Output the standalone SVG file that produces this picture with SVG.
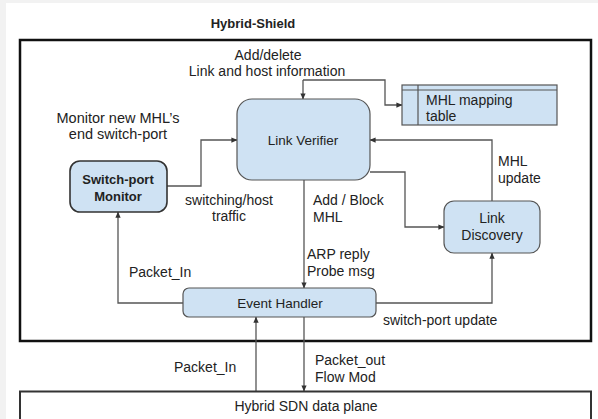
<svg xmlns="http://www.w3.org/2000/svg" width="598" height="419" viewBox="0 0 598 419">
<style>
text{font-family:"Liberation Sans",Arial,sans-serif;fill:#222;}
.lbl{font-size:14px;}
.box{fill:#cfe2f3;stroke:#555;stroke-width:1.2;}
.con{fill:none;stroke:#555;stroke-width:1.3;}
.mid{text-anchor:middle;}
</style>
<defs>
<marker id="ah" viewBox="0 0 8 8" refX="7.5" refY="4" markerWidth="6" markerHeight="6" orient="auto" markerUnits="userSpaceOnUse">
<path d="M0,0.5 L8,4 L0,7.5 z" fill="#333"/>
</marker>
</defs>
<rect x="0" y="0" width="598" height="419" fill="#f2f2f2"/>
<rect x="6" y="3" width="592" height="416" fill="#fff"/>
<text x="253" y="28" class="mid" style="font-size:13px;font-weight:bold">Hybrid-Shield</text>
<rect id="hybrid-shield" x="20" y="40" width="571" height="301" fill="none" stroke="#111" stroke-width="2.5"/>

<g id="connectors">
<path class="con" d="M303,80 V99" marker-end="url(#ah)"/>
<path class="con" d="M303,80 H385 V105 H402" marker-end="url(#ah)"/>
<path class="con" d="M167,186 H201 V140 H237" marker-end="url(#ah)"/>
<path class="con" d="M304,180 V288" marker-end="url(#ah)"/>
<path class="con" d="M370,172 H405 V227 H444" marker-end="url(#ah)"/>
<path class="con" d="M492,201 V140 H370" marker-end="url(#ah)"/>
<path class="con" d="M183,303 H118 V212" marker-end="url(#ah)"/>
<path class="con" d="M376,303 H492 V253" marker-end="url(#ah)"/>
<path class="con" d="M256,391 V317" marker-end="url(#ah)"/>
<path class="con" d="M304,317 V391" marker-end="url(#ah)"/>
</g>

<g id="labels" class="lbl">
<text x="268" y="60" class="mid">Add/delete</text>
<text x="267" y="76" class="mid">Link and host information</text>
<text x="118" y="123" class="mid" style="font-size:14.5px">Monitor new MHL’s</text>
<text x="118" y="139" class="mid" style="font-size:14.5px">end switch-port</text>
<text x="229" y="205" class="mid">switching/host</text>
<text x="229" y="221" class="mid">traffic</text>
<text x="313" y="205">Add / Block</text>
<text x="313" y="222">MHL</text>
<text x="307" y="259">ARP reply</text>
<text x="307" y="276">Probe msg</text>
<text x="498" y="166">MHL</text>
<text x="498" y="183">update</text>
<text x="129" y="277">Packet_In</text>
<text x="383" y="325">switch-port update</text>
<text x="174" y="372">Packet_In</text>
<text x="315" y="365">Packet_out</text>
<text x="315" y="382">Flow Mod</text>
</g>

<g id="link-verifier">
<rect class="box" x="237" y="99" width="133" height="81" rx="15"/>
<text x="303" y="145" class="mid" style="font-size:13.5px">Link Verifier</text>
</g>

<g id="mhl-table">
<rect class="box" x="402" y="85" width="155" height="40" rx="0"/>
<line x1="402" y1="90" x2="557" y2="90" stroke="#555" stroke-width="1.2"/>
<line x1="418" y1="85" x2="418" y2="125" stroke="#555" stroke-width="1.2"/>
<text x="426" y="105" class="lbl">MHL mapping</text>
<text x="426" y="121" class="lbl">table</text>
</g>

<g id="switch-port-monitor">
<rect class="box" x="70" y="161" width="97" height="51" rx="10" style="stroke:#333;stroke-width:1.6"/>
<text x="118" y="184" class="mid" style="font-size:13px;font-weight:bold">Switch-port</text>
<text x="118" y="201" class="mid" style="font-size:13px;font-weight:bold">Monitor</text>
</g>

<g id="link-discovery">
<rect class="box" x="444" y="201" width="96" height="52" rx="10"/>
<text x="492" y="223" class="mid lbl">Link</text>
<text x="492" y="240" class="mid lbl">Discovery</text>
</g>

<g id="event-handler">
<rect class="box" x="183" y="288" width="193" height="29" rx="6"/>
<text x="280" y="308" class="mid" style="font-size:13.5px">Event Handler</text>
</g>

<g id="data-plane">
<rect x="20" y="391.5" width="571" height="40" fill="#fff" stroke="#333" stroke-width="2"/>
<text x="306" y="411" class="mid lbl">Hybrid SDN data plane</text>
</g>
</svg>
